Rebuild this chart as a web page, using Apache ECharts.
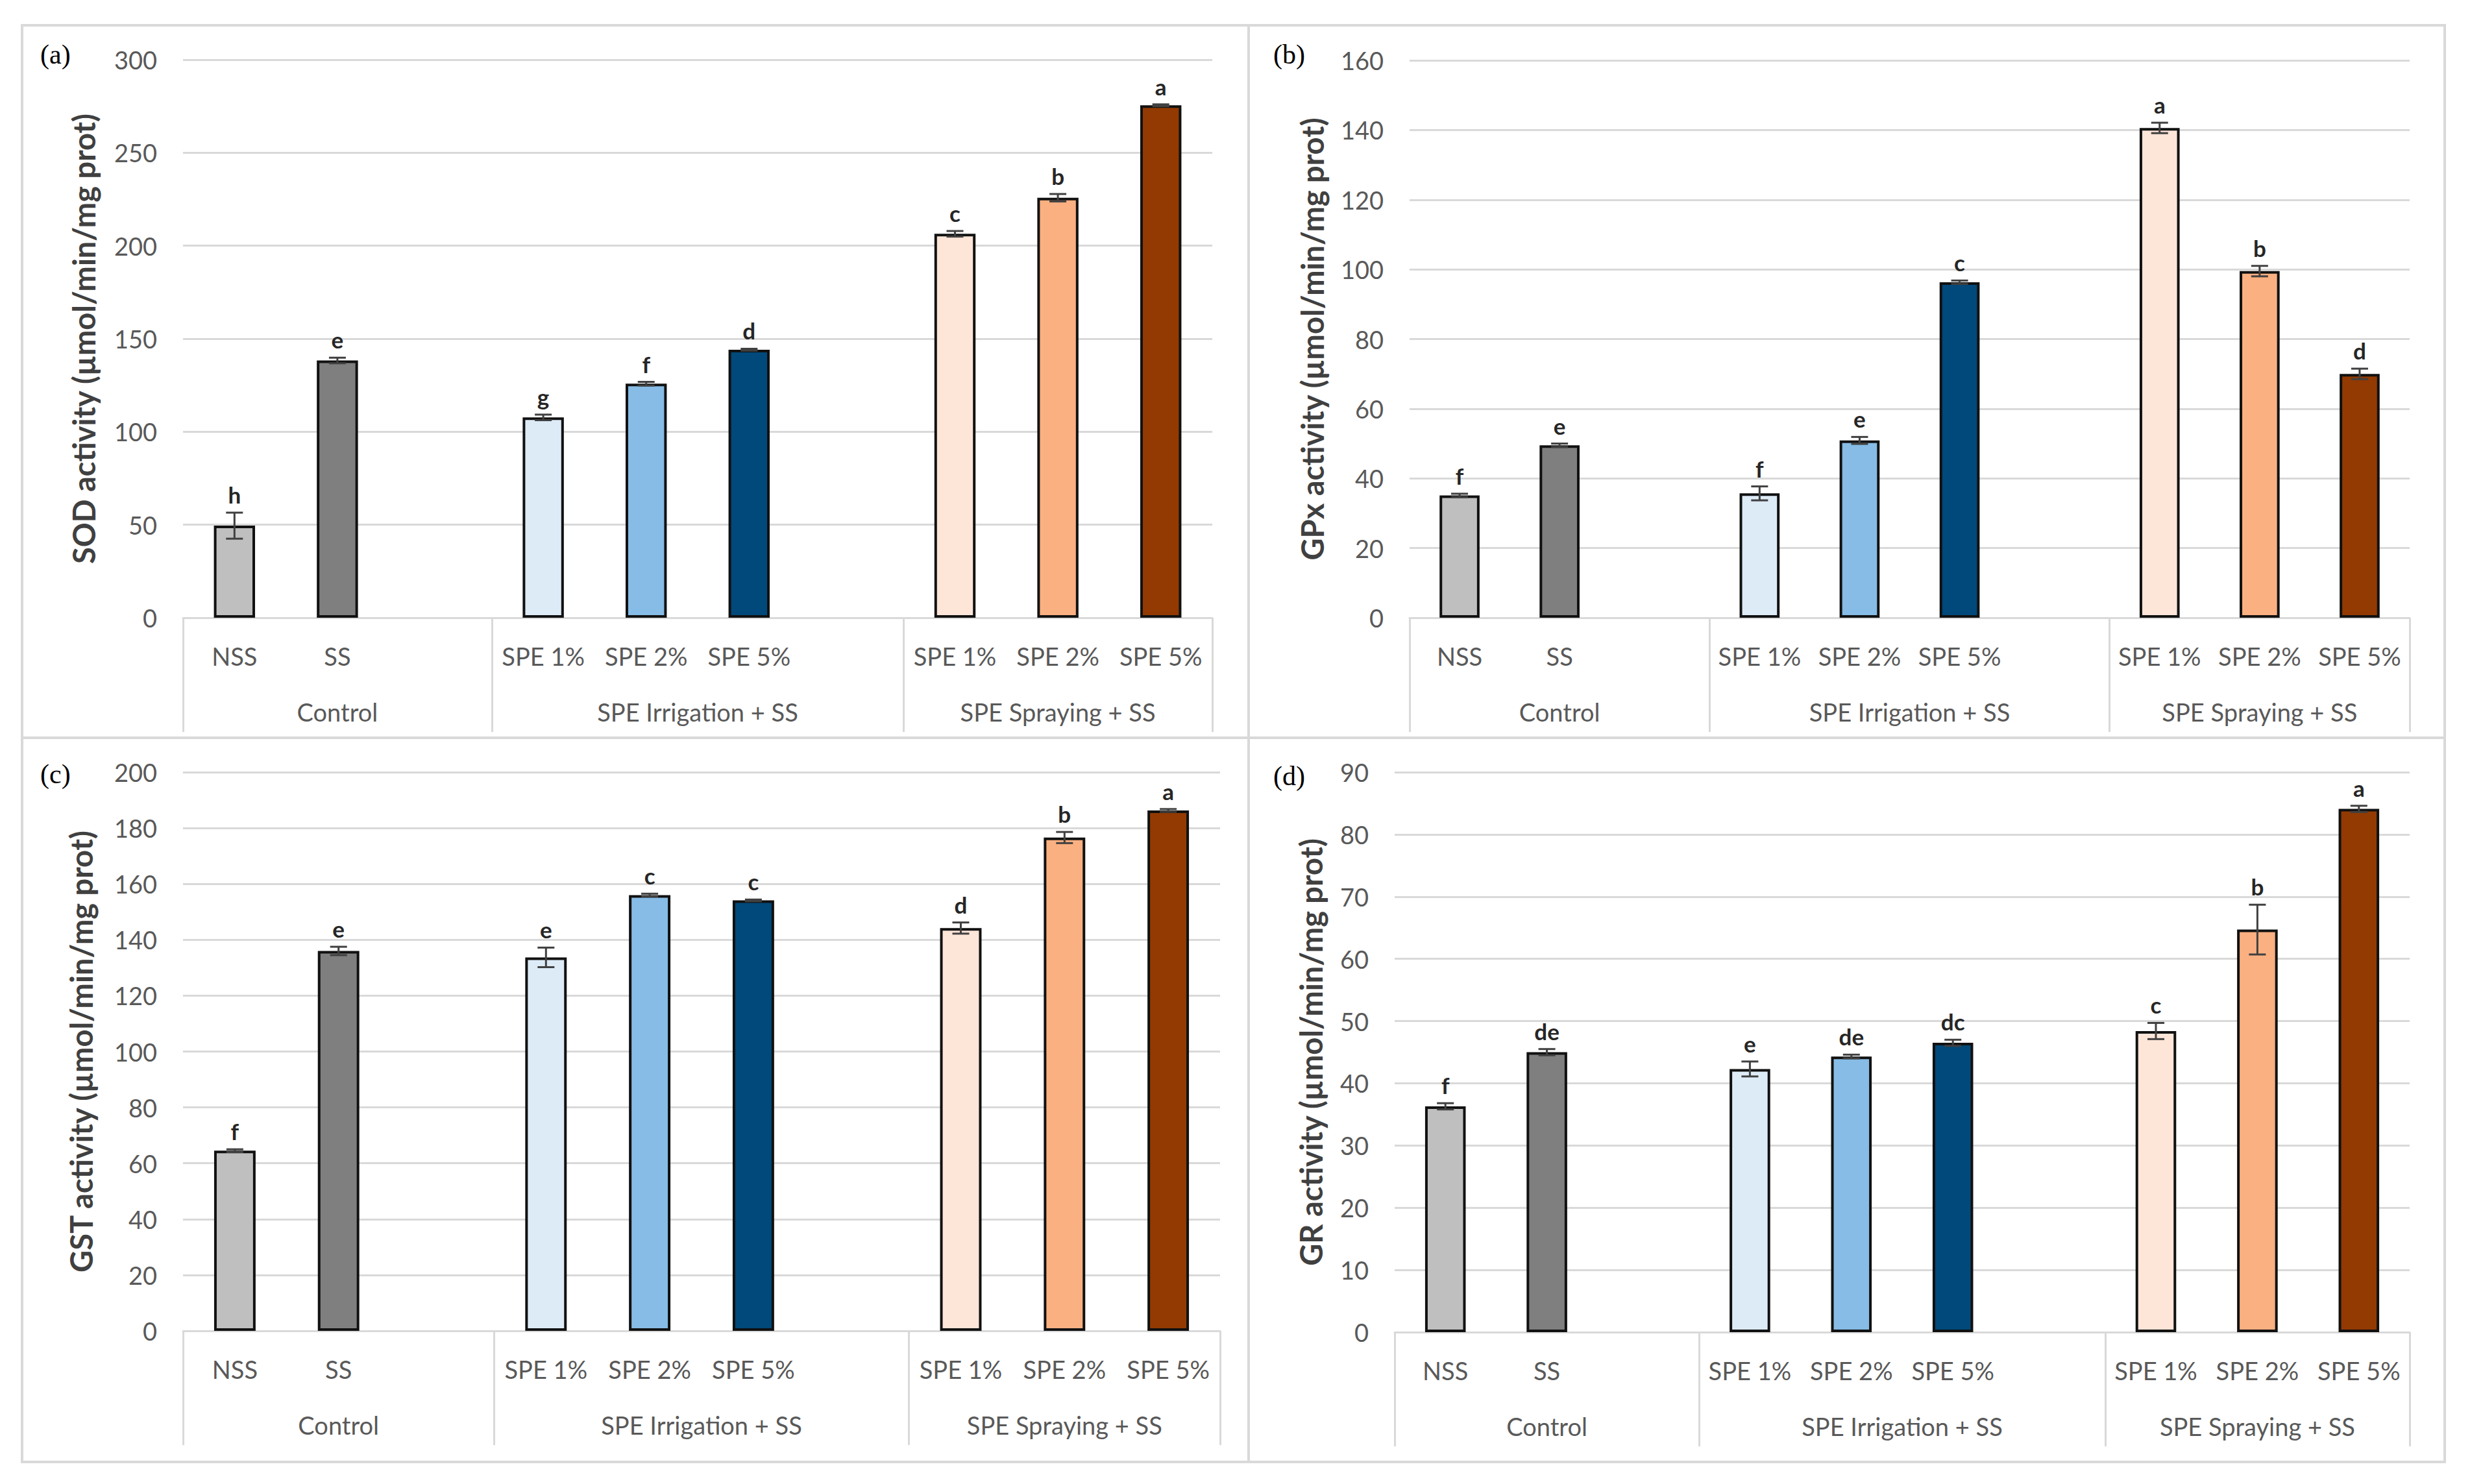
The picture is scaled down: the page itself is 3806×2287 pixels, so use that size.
<!DOCTYPE html>
<html>
<head>
<meta charset="utf-8">
<script src="https://cdn.jsdelivr.net/npm/echarts@6/dist/echarts.min.js"></script>
<style>
html,body{margin:0;padding:0;background:#fff;}
#chart{width:3806px;height:2287px;}
</style>
</head>
<body>
<div id="chart"></div>
<script>
// ---------- data ----------
const categories = ['NSS', 'SS', '', 'SPE 1%', 'SPE 2%', 'SPE 5%', '', 'SPE 1%', 'SPE 2%', 'SPE 5%'];
const groupNames = ['Control', 'SPE Irrigation + SS', 'SPE Spraying + SS'];
const groupBounds = [0, 3, 7, 10];
const groupCenters = [1.5, 5, 8.5];

const sodMean = [49.5, 138.3, null, 107.7, 125.8, 144.1, null, 206.4, 225.8, 275.5];
const sodErr = [7, 1.5, null, 1.5, 1, 0.5, null, 1.5, 2, 0.5];
const sodLetters = ['h', 'e', '', 'g', 'f', 'd', '', 'c', 'b', 'a'];

const gpxMean = [35.1, 49.5, null, 35.7, 50.9, 96.3, null, 140.6, 99.5, 70.0];
const gpxErr = [0.5, 0.5, null, 2, 1, 0.5, null, 1.5, 1.5, 1.5];
const gpxLetters = ['f', 'e', '', 'f', 'e', 'c', '', 'a', 'b', 'd'];

const gstMean = [64.5, 136.0, null, 133.7, 156.0, 154.1, null, 144.2, 176.6, 186.3];
const gstErr = [0.5, 1.5, null, 3.5, 0.5, 0.3, null, 2, 2, 0.5];
const gstLetters = ['f', 'e', '', 'e', 'c', 'c', '', 'd', 'b', 'a'];

const grMean = [36.3, 45.0, null, 42.3, 44.3, 46.5, null, 48.4, 64.7, 84.1];
const grErr = [0.5, 0.5, null, 1.2, 0.3, 0.5, null, 1.3, 4, 0.5];
const grLetters = ['f', 'de', '', 'e', 'de', 'dc', '', 'c', 'b', 'a'];

const yTitles = [
  'SOD activity (µmol/min/mg prot)',
  'GPx activity (µmol/min/mg prot)',
  'GST activity (µmol/min/mg prot)',
  'GR activity (µmol/min/mg prot)'
];
const panelTags = ['(a)', '(b)', '(c)', '(d)'];
const yMax = [300, 160, 200, 90];
const yStep = [50, 20, 20, 10];

// ---------- styles / layout ----------
const barColors = ['#BFBFBF', '#7F7F7F', null, '#DDEBF7', '#86BCE5', '#00497A', null, '#FDE5D8', '#FBB081', '#923A02'];
const grids = [
  {left: 282, top: 92, width: 1586, height: 860},
  {left: 2172, top: 93, width: 1541, height: 859},
  {left: 282, top: 1190, width: 1598, height: 861},
  {left: 2149, top: 1190, width: 1564, height: 863}
];
const tagPos = [[62, 63], [1962, 63], [62, 1172], [1962, 1175]];
const titleGap = [130, 127, 134, 106];

const panels = [
  {mean: sodMean, err: sodErr, letters: sodLetters},
  {mean: gpxMean, err: gpxErr, letters: gpxLetters},
  {mean: gstMean, err: gstErr, letters: gstLetters},
  {mean: grMean, err: grErr, letters: grLetters}
];

const FONT = 'Lato';
const LABEL_COLOR = '#595959';
const GRID_COLOR = '#D9D9D9';

const option = {
  backgroundColor: '#fff',
  animation: false,
  title: [],
  grid: [],
  xAxis: [],
  yAxis: [],
  series: [],
  graphic: [
    {type: 'rect', shape: {x: 34, y: 39, width: 3733, height: 2214},
     style: {fill: 'none', stroke: GRID_COLOR, lineWidth: 4}},
    {type: 'line', shape: {x1: 1924, y1: 39, x2: 1924, y2: 2253},
     style: {stroke: GRID_COLOR, lineWidth: 4}},
    {type: 'line', shape: {x1: 34, y1: 1137, x2: 3767, y2: 1137},
     style: {stroke: GRID_COLOR, lineWidth: 4}}
  ]
};

panels.forEach((p, k) => {
  option.grid.push(Object.assign({containLabel: false}, grids[k]));
  option.title.push({
    text: panelTags[k], left: tagPos[k][0], top: tagPos[k][1], padding: 0,
    textStyle: {fontFamily: 'Liberation Serif', fontSize: 42, fontWeight: 'normal', color: '#000'}
  });
  // sub-category axis
  option.xAxis.push({
    type: 'category', gridIndex: k, data: categories, position: 'bottom',
    axisLine: {show: true, lineStyle: {color: GRID_COLOR, width: 3}},
    axisTick: {show: false},
    axisLabel: {interval: 0, margin: 40, fontFamily: FONT, fontSize: 38, color: LABEL_COLOR},
    splitLine: {show: false}
  });
  // group axis (separators + group names)
  option.xAxis.push({
    type: 'value', gridIndex: k, min: 0, max: 10, position: 'bottom',
    axisLine: {show: false},
    splitLine: {show: false},
    axisTick: {show: true, customValues: groupBounds, length: 176, inside: false,
               lineStyle: {color: GRID_COLOR, width: 3}},
    axisLabel: {show: true, customValues: groupCenters, margin: 126,
                fontFamily: FONT, fontSize: 38, color: LABEL_COLOR,
                formatter: v => groupNames[groupCenters.indexOf(v)] || ''}
  });
  option.yAxis.push({
    type: 'value', gridIndex: k, min: 0, max: yMax[k], interval: yStep[k],
    axisLine: {show: false}, axisTick: {show: false},
    splitLine: {show: true, lineStyle: {color: GRID_COLOR, width: 3}},
    axisLabel: {margin: 40, fontFamily: FONT, fontSize: 38, color: LABEL_COLOR},
    name: yTitles[k], nameLocation: 'middle', nameGap: titleGap[k], nameRotate: 90,
    nameTextStyle: {fontFamily: FONT, fontSize: 47, fontWeight: 'bold', color: '#404040'}
  });
  option.series.push({
    type: 'bar', xAxisIndex: 2 * k, yAxisIndex: k, barWidth: '40%',
    data: p.mean.map((v, i) => v == null ? '-' : {
      value: v, itemStyle: {color: barColors[i], borderColor: '#111', borderWidth: 4}
    })
  });
  option.series.push({
    type: 'custom', xAxisIndex: 2 * k, yAxisIndex: k, z: 5,
    data: p.mean.map((v, i) => v == null ? null : [i, v, p.err[i]]).filter(d => d),
    encode: {x: 0, y: 1},
    renderItem: (params, api) => {
      const i = api.value(0), m = api.value(1), e = api.value(2);
      const top = api.coord([i, m + e]);
      const bot = api.coord([i, m - e]);
      const x = top[0], cap = 13;
      const ls = {stroke: '#404040', lineWidth: 3};
      return {
        type: 'group',
        children: [
          {type: 'line', shape: {x1: x, y1: top[1], x2: x, y2: bot[1]}, style: ls},
          {type: 'line', shape: {x1: x - cap, y1: top[1], x2: x + cap, y2: top[1]}, style: ls},
          {type: 'line', shape: {x1: x - cap, y1: bot[1], x2: x + cap, y2: bot[1]}, style: ls},
          {type: 'text', x: x, y: top[1] - 28,
           style: {text: p.letters[i], fill: '#262626', font: 'bold 35px Lato',
                   align: 'center', verticalAlign: 'middle'}}
        ]
      };
    }
  });
});

const chart = echarts.init(document.getElementById('chart'), null, {renderer: 'svg'});
chart.setOption(option);
</script>
</body>
</html>
